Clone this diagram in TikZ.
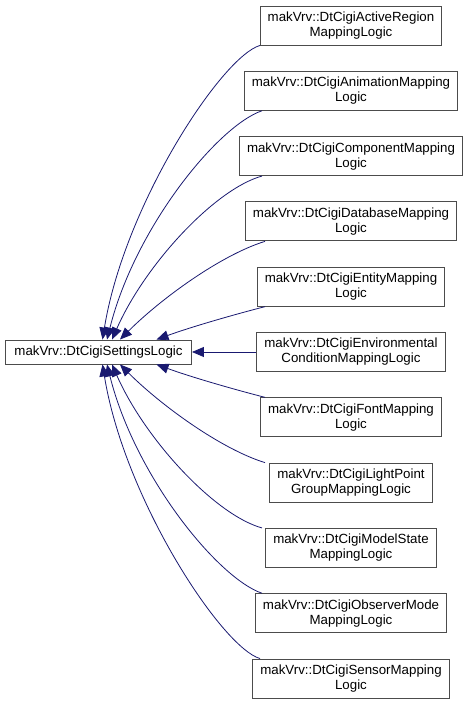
\documentclass[tikz,border=0pt]{standalone}
\usepackage{fontspec}
\setmainfont{Liberation Sans}
\usetikzlibrary{arrows.meta}
\definecolor{edgeblue}{RGB}{25,25,112}
\tikzset{
  cls/.style={draw=black!70, fill=white, line width=0.9pt, align=center,
    inner xsep=7.5pt, inner ysep=1pt, minimum height=39,
    font=\fontsize{13.3}{15}\selectfont},
  baseclass/.style={cls, minimum height=24, inner xsep=9pt},
  edge/.style={draw=edgeblue, line width=0.8pt,
    -{Triangle[length=12pt,width=10pt]}},
}
\begin{document}
\begin{tikzpicture}[x=1pt,y=1pt]
\useasboundingbox (0,0) rectangle (468,705);
\node[baseclass] (base) at(98.5,353) {makVrv::DtCigiSettingsLogic};
\node[cls] (d1) at(351,679.5) {makVrv::DtCigiActiveRegion\\MappingLogic};
\node[cls] (d2) at(351,614.2) {makVrv::DtCigiAnimationMapping\\Logic};
\node[cls] (d3) at(351,548.9) {makVrv::DtCigiComponentMapping\\Logic};
\node[cls] (d4) at(351,483.6) {makVrv::DtCigiDatabaseMapping\\Logic};
\node[cls] (d5) at(351,418.3) {makVrv::DtCigiEntityMapping\\Logic};
\node[cls] (d6) at(351,353) {makVrv::DtCigiEnvironmental\\ConditionMappingLogic};
\node[cls] (d7) at(351,287.7) {makVrv::DtCigiFontMapping\\Logic};
\node[cls] (d8) at(351,222.4) {makVrv::DtCigiLightPoint\\GroupMappingLogic};
\node[cls] (d9) at(351,157.1) {makVrv::DtCigiModelState\\MappingLogic};
\node[cls] (d10) at(351,91.8) {makVrv::DtCigiObserverMode\\MappingLogic};
\node[cls] (d11) at(351,26.5) {makVrv::DtCigiSensorMapping\\Logic};
% upper branch
\draw[edge] ([xshift=-91]d1.south) .. controls +(-38,-11) and +(22,135) .. ([xshift=4]base.north);
\draw[edge] ([xshift=-89]d2.south) .. controls +(-44,-15) and +(28,112) .. ([xshift=8.5]base.north);
\draw[edge] ([xshift=-89]d3.south) .. controls +(-47,-13) and +(33,75) .. ([xshift=13.5]base.north);
\draw[edge] ([xshift=-86]d4.south) .. controls +(-45,-14) and +(40,40) .. ([xshift=21.5]base.north);
\draw[edge] ([xshift=-86]d5.south) .. controls +(-35,-9) and +(33,12) .. ([xshift=58]base.north);
\draw[edge] (d6.west) -- (base.east);
% lower branch
\draw[edge] ([xshift=-86]d7.north) .. controls +(-35,9) and +(33,-12) .. ([xshift=58]base.south);
\draw[edge] ([xshift=-86]d8.north) .. controls +(-45,14) and +(40,-40) .. ([xshift=21.5]base.south);
\draw[edge] ([xshift=-89]d9.north) .. controls +(-47,13) and +(33,-75) .. ([xshift=13.5]base.south);
\draw[edge] ([xshift=-89]d10.north) .. controls +(-44,15) and +(28,-112) .. ([xshift=8.5]base.south);
\draw[edge] ([xshift=-91]d11.north) .. controls +(-38,11) and +(22,-135) .. ([xshift=4]base.south);
\end{tikzpicture}
\end{document}
